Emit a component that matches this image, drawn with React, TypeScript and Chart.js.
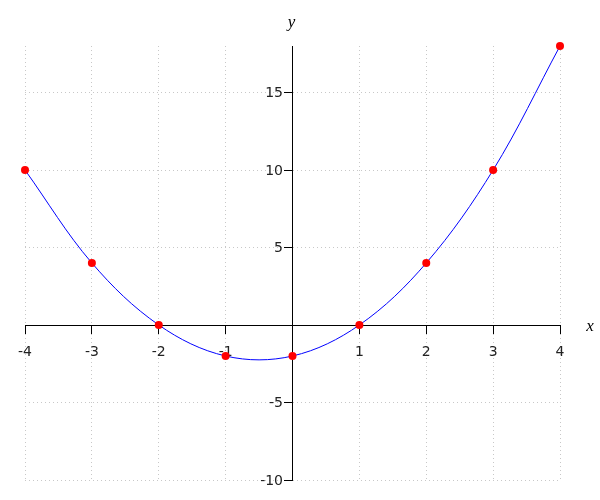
import React, { useEffect, useRef } from "react";
import { Chart, registerables } from "chart.js";

Chart.register(...registerables);

const xValues = [-4, -3, -2, -1, 0, 1, 2, 3, 4];
const yValues = [10, 4, 0, -2, -2, 0, 4, 10, 18];
const xRange = [-4, 4];
const yRange = [-10, 18];
const xStep = 1;
const yStep = 5;
const xTitle = "x";
const yTitle = "y";

const tickFontCss = "14px 'DejaVu Sans', sans-serif";

const overlayPlugin = {
  id: "axisOverlay",
  afterDraw(chart: any) {
    const { ctx, scales } = chart;
    const xs = scales.x;
    const ys = scales.y;
    const axisX = xs.getPixelForValue(0);
    ctx.save();
    // y tick labels
    ctx.fillStyle = "#222";
    ctx.font = tickFontCss;
    ctx.textAlign = "right";
    ctx.textBaseline = "middle";
    ys.ticks.forEach((t: any) => {
      if (t.value === 0) return;
      ctx.fillText(String(t.value), axisX - 9.5, ys.getPixelForValue(t.value) + 1);
    });
    // axis titles
    ctx.fillStyle = "#000";
    ctx.font = "italic 17px 'Liberation Serif', serif";
    ctx.textAlign = "center";
    ctx.fillText(yTitle, axisX - 1, ys.top - 23);
    ctx.fillText(xTitle, xs.right + 30, ys.getPixelForValue(0) + 2);
    ctx.restore();
  },
};

export default function App() {
  const ref = useRef<HTMLCanvasElement>(null);
  useEffect(() => {
    if (!ref.current) return;
    const tickFont = { family: "'DejaVu Sans', sans-serif", size: 14 };
    const chart = new Chart(ref.current, {
      type: "scatter",
      data: {
        datasets: [
          {
            data: xValues.map((x, i) => ({ x, y: yValues[i] })),
            showLine: true,
            tension: 0.35,
            borderColor: "#0000ff",
            borderWidth: 1,
            pointRadius: 4,
            pointBackgroundColor: "#ff0000",
            pointBorderWidth: 0,
            pointHoverRadius: 4,
            clip: false as any,
          },
        ],
      },
      options: {
        animation: false,
        responsive: false,
        layout: { padding: { left: 25, right: 40, top: 46, bottom: 20 } },
        plugins: { legend: { display: false }, tooltip: { enabled: false } },
        scales: {
          x: {
            type: "linear",
            position: { y: 0 } as any,
            min: xRange[0],
            max: xRange[1],
            ticks: {
              stepSize: xStep,
              font: tickFont,
              color: "#222",
              padding: 11,
              maxRotation: 0,
              callback: (v: any) => (v === 0 ? "" : String(v)),
            },
            grid: {
              color: "#c8c8c8",
              tickColor: "#000",
              tickLength: 8,
              tickBorderDash: [],
            } as any,
            border: { display: true, color: "#000", width: 1, dash: [1, 3] },
          },
          y: {
            type: "linear",
            position: { x: 0 } as any,
            min: yRange[0],
            max: yRange[1],
            ticks: {
              stepSize: yStep,
              includeBounds: false,
              font: tickFont,
              color: "#222",
              callback: () => "",
            },
            afterBuildTicks: (scale: any) => {
              scale.ticks = scale.ticks.filter((t: any) => t.value % yStep === 0);
            },
            grid: {
              color: "#c8c8c8",
              tickColor: "#000",
              tickLength: 8,
              tickBorderDash: [],
            } as any,
            border: { display: true, color: "#000", width: 1, dash: [1, 3] },
          },
        },
      },
      plugins: [overlayPlugin],
    });
    return () => chart.destroy();
  }, []);
  return (
    <div style={{ position: "absolute", left: 0, top: 0, width: 600, height: 500, background: "#fff" }}>
      <canvas ref={ref} width={600} height={500} style={{ display: "block" }} />
    </div>
  );
}
